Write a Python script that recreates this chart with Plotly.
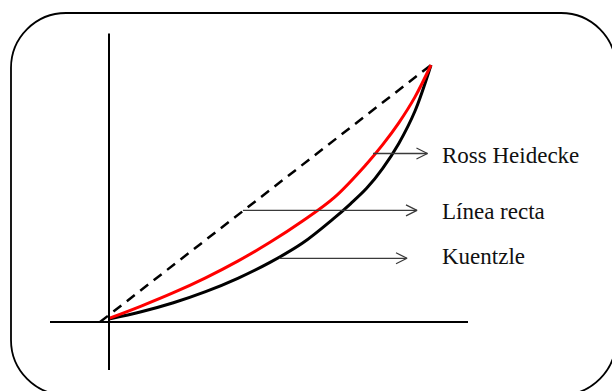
import plotly.graph_objects as go

# ---- data (unit coordinates: origin -> end of curves at (1,1)) ----
ross_x = [0.0, 0.10, 0.20, 0.30, 0.40, 0.50, 0.60, 0.70, 0.80, 0.85, 0.90, 0.95, 1.0]
ross_y = [0.014, 0.062, 0.114, 0.172, 0.237, 0.310, 0.392, 0.485, 0.615, 0.69, 0.775, 0.875, 1.0]

kuentzle_x = [0.0, 0.10, 0.20, 0.30, 0.40, 0.50, 0.60, 0.70, 0.75, 0.80, 0.85, 0.90, 0.95, 1.0]
kuentzle_y = [0.012, 0.040, 0.075, 0.118, 0.170, 0.232, 0.306, 0.405, 0.46, 0.52, 0.598, 0.695, 0.82, 1.0]

recta_x = [-0.028, 1.0]
recta_y = [0.0, 1.0]

labels = ["Ross Heidecke", "Línea recta", "Kuentzle"]
label_y = [0.648, 0.429, 0.253]
arrow_y = [0.6556, 0.4346, 0.2479]
arrow_x0 = [0.820, 0.416, 0.528]
arrow_x1 = [0.989, 0.9565, 0.9255]

# ---- figure geometry (pixels) ----
W, H = 612, 391
ox, oy = 109, 322      # pixel position of data origin
sx, sy = 322, 257      # pixels per data unit

fig = go.Figure()

# dashed straight line
fig.add_trace(go.Scatter(x=recta_x, y=recta_y, mode="lines",
                         line=dict(color="black", width=2.5, dash="10px,7px"),
                         hoverinfo="skip"))
# Kuentzle (black)
fig.add_trace(go.Scatter(x=kuentzle_x, y=kuentzle_y, mode="lines",
                         line=dict(color="black", width=3, shape="spline", smoothing=1.0),
                         hoverinfo="skip"))
# Ross Heidecke (red)
fig.add_trace(go.Scatter(x=ross_x, y=ross_y, mode="lines",
                         line=dict(color="#ff0000", width=3, shape="spline", smoothing=1.0),
                         hoverinfo="skip"))

# arrows with open chevron heads
hx, hy = 11 / sx, 5.5 / sy
ax_, ay_ = [], []
for y, x0, x1 in zip(arrow_y, arrow_x0, arrow_x1):
    ax_ += [x0, x1, None, x1 - hx, x1, x1 - hx, None]
    ay_ += [y, y, None, y + hy, y, y - hy, None]
fig.add_trace(go.Scatter(x=ax_, y=ay_, mode="lines",
                         line=dict(color="#3a3a3a", width=1.3),
                         hoverinfo="skip"))

for txt, y in zip(labels, label_y):
    fig.add_annotation(x=(440 - ox) / sx, y=y, text=txt, showarrow=False,
                       xanchor="left", yanchor="middle",
                       font=dict(family="Liberation Serif, Times New Roman, serif",
                                 size=23, color="#111111"))

# axes lines
shapes = [
    dict(type="line", xref="x", yref="y", x0=0, x1=0,
         y0=(oy - 33.5) / sy, y1=(oy - 370) / sy, line=dict(color="black", width=2)),
    dict(type="line", xref="x", yref="y", y0=0, y1=0,
         x0=(50 - ox) / sx, x1=(468 - ox) / sx, line=dict(color="black", width=2)),
]

# rounded frame (paper coords, built from pixel geometry)
L, T, R, B, r = 11, 13, 616, 395, 55
k = 0.5523 * r
def P(px, py):
    return f"{px / W:.5f},{1 - py / H:.5f}"
path = (f"M {P(L + r, T)} L {P(R - r, T)} "
        f"C {P(R - r + k, T)} {P(R, T + r - k)} {P(R, T + r)} "
        f"L {P(R, B - r)} "
        f"C {P(R, B - r + k)} {P(R - r + k, B)} {P(R - r, B)} "
        f"L {P(L + r, B)} "
        f"C {P(L + r - k, B)} {P(L, B - r + k)} {P(L, B - r)} "
        f"L {P(L, T + r)} "
        f"C {P(L, T + r - k)} {P(L + r - k, T)} {P(L + r, T)} Z")
shapes.append(dict(type="path", xref="paper", yref="paper", path=path,
                   line=dict(color="black", width=1.8), layer="below"))

fig.update_layout(
    width=W, height=H,
    margin=dict(l=0, r=0, t=0, b=0),
    paper_bgcolor="white", plot_bgcolor="white",
    showlegend=False,
    shapes=shapes,
    xaxis=dict(range=[-ox / sx, (W - ox) / sx], visible=False, fixedrange=True),
    yaxis=dict(range=[(oy - H) / sy, oy / sy], visible=False, fixedrange=True),
)

fig.write_html("out.html", config={"displayModeBar": False},
               post_script="document.body.style.margin='0';document.body.style.overflow='hidden';")
